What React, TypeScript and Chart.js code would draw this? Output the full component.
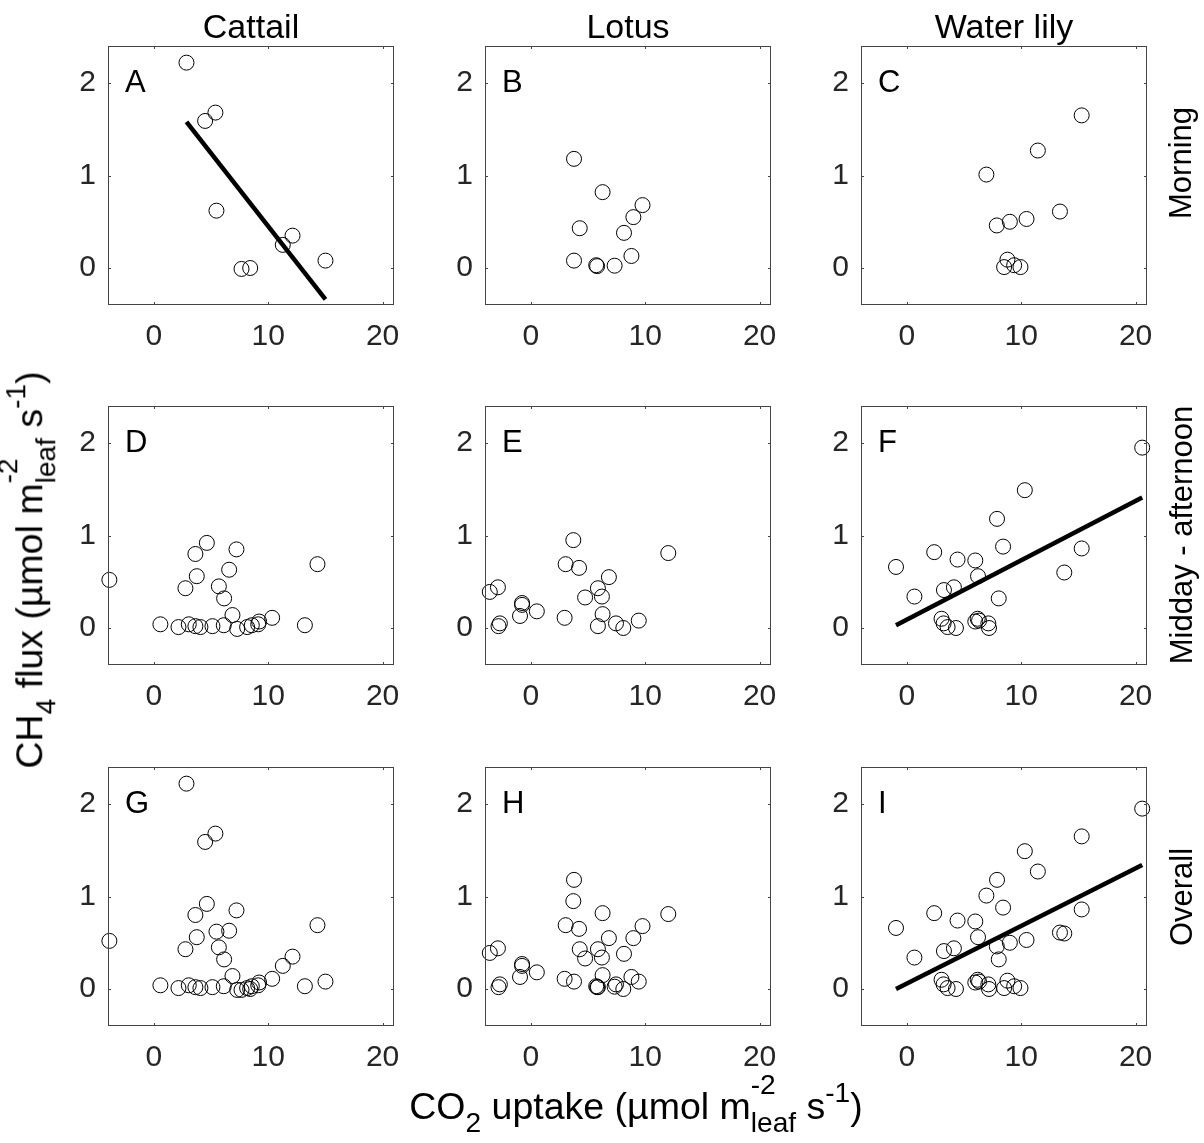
import React, { useEffect, useRef } from 'react';
import { Chart, registerables } from 'chart.js';

Chart.register(...registerables);

// ---------------- data ----------------
const columnTitles = ['Cattail', 'Lotus', 'Water lily'];
const rowTitles = ['Morning', 'Midday - afternoon', 'Overall'];
const panelLetters = ['A', 'B', 'C', 'D', 'E', 'F', 'G', 'H', 'I'];

const xTickValues = [0, 10, 20];
const yTickValues = [0, 1, 2];
const xRange = [-4, 21];
const yRange = [-0.4, 2.4];

// Morning
const morningCattailX = [2.86, 4.49, 5.39, 5.48, 7.67, 8.43, 11.28, 12.13, 15.01];
const morningCattailY = [2.22, 1.59, 1.68, 0.62, -0.01, 0.0, 0.25, 0.35, 0.08];

const morningLotusX = [3.78, 6.28, 9.77, 8.97, 4.28, 8.15, 3.78, 8.8, 5.72, 5.8, 7.33];
const morningLotusY = [1.18, 0.82, 0.68, 0.55, 0.43, 0.38, 0.08, 0.13, 0.03, 0.02, 0.025];

const morningLilyX = [15.29, 11.46, 6.96, 13.39, 10.47, 9.01, 7.87, 8.8, 8.51, 9.39, 9.94];
const morningLilyY = [1.65, 1.27, 1.01, 0.61, 0.53, 0.5, 0.46, 0.09, 0.01, 0.03, 0.01];

// Midday - afternoon
const middayCattailX = [-3.88, 4.64, 3.64, 7.23, 14.31, 6.59, 3.76, 2.77, 5.69, 6.15, 6.88, 0.58, 2.16, 3.06, 3.64, 4.08, 5.13, 6.12, 7.29, 8.16, 8.57, 9.13, 9.21, 10.35, 13.21];
const middayCattailY = [0.52, 0.92, 0.8, 0.85, 0.69, 0.63, 0.56, 0.43, 0.45, 0.32, 0.14, 0.04, 0.01, 0.04, 0.02, 0.01, 0.02, 0.03, -0.01, 0.01, 0.03, 0.04, 0.07, 0.11, 0.03];

const middayLotusX = [-3.58, -2.87, -2.82, -2.7, -0.76, -0.76, -0.94, 0.53, 3.72, 3.05, 4.22, 4.75, 5.87, 6.22, 6.83, 6.28, 5.87, 2.96, 7.45, 8.09, 9.44, 12.02];
const middayLotusY = [0.39, 0.44, 0.02, 0.05, 0.27, 0.25, 0.13, 0.18, 0.95, 0.69, 0.65, 0.33, 0.43, 0.34, 0.55, 0.15, 0.02, 0.11, 0.05, 0.0, 0.08, 0.81];

const middayLilyX = [-0.94, 0.67, 2.4, 3.25, 4.12, 4.44, 5.99, 6.23, 7.89, 8.42, 8.04, 10.32, 13.77, 15.29, 3.04, 3.22, 3.57, 4.3, 5.99, 6.2, 6.32, 7.13, 7.19, 20.58];
const middayLilyY = [0.66, 0.34, 0.82, 0.41, 0.44, 0.74, 0.73, 0.56, 1.18, 0.88, 0.32, 1.49, 0.6, 0.86, 0.1, 0.05, 0.01, 0.0, 0.07, 0.1, 0.08, 0.05, 0.0, 1.95];

// Regression lines (end points)
const fitMorningCattailX = [2.86, 15.01];
const fitMorningCattailY = [1.58, -0.34];
const fitMiddayLilyX = [-0.94, 20.58];
const fitMiddayLilyY = [0.03, 1.41];
const fitOverallLilyX = [-0.94, 20.58];
const fitOverallLilyY = [0.0, 1.34];

// ---------------- helpers ----------------
type Pt = { x: number; y: number };
const zip = (xs: number[], ys: number[]): Pt[] => xs.map((x, i) => ({ x, y: ys[i] }));

const FONT = '"Liberation Sans", Arial, Helvetica, sans-serif';
const AXIS_COLOR = '#262626';
const BOX_COLOR = '#444444';
const TICK_FONT = 30;

const PANEL_LEFTS = [108, 485, 861];
const PANEL_TOPS = [46, 406, 767];
const PANEL_W = 286;
const PANEL_H = 259;
const PAD_L = 80;
const PAD_T = 12;
const PAD_R = 24;
const PAD_B = 70;
const CANVAS_W = PAD_L + PANEL_W + PAD_R;
const CANVAS_H = PAD_T + PANEL_H + PAD_B;

const panelsData: { pts: Pt[]; fit: Pt[] | null }[] = [
  { pts: zip(morningCattailX, morningCattailY), fit: zip(fitMorningCattailX, fitMorningCattailY) },
  { pts: zip(morningLotusX, morningLotusY), fit: null },
  { pts: zip(morningLilyX, morningLilyY), fit: null },
  { pts: zip(middayCattailX, middayCattailY), fit: null },
  { pts: zip(middayLotusX, middayLotusY), fit: null },
  { pts: zip(middayLilyX, middayLilyY), fit: zip(fitMiddayLilyX, fitMiddayLilyY) },
  { pts: zip(morningCattailX.concat(middayCattailX), morningCattailY.concat(middayCattailY)), fit: null },
  { pts: zip(morningLotusX.concat(middayLotusX), morningLotusY.concat(middayLotusY)), fit: null },
  { pts: zip(morningLilyX.concat(middayLilyX), morningLilyY.concat(middayLilyY)), fit: zip(fitOverallLilyX, fitOverallLilyY) },
];

const boxPlugin = {
  id: 'matlabBox',
  afterDraw(chart: any) {
    const { ctx, chartArea } = chart;
    const { left, right, top, bottom } = chartArea;
    const xs = chart.scales.x;
    const ys = chart.scales.y;
    const tl = 3;
    ctx.save();
    ctx.strokeStyle = BOX_COLOR;
    ctx.lineWidth = 1;
    ctx.strokeRect(left + 0.5, top + 0.5, right - left - 1, bottom - top - 1);
    ctx.beginPath();
    for (const v of xTickValues) {
      const px = Math.round(xs.getPixelForValue(v)) + 0.5;
      ctx.moveTo(px, bottom);
      ctx.lineTo(px, bottom - tl);
      ctx.moveTo(px, top);
      ctx.lineTo(px, top + tl);
    }
    for (const v of yTickValues) {
      const py = Math.round(ys.getPixelForValue(v)) + 0.5;
      ctx.moveTo(left, py);
      ctx.lineTo(left + tl, py);
      ctx.moveTo(right, py);
      ctx.lineTo(right - tl, py);
    }
    ctx.stroke();
    ctx.restore();
  },
};

function Panel({ pts, fit, left, top }: { pts: Pt[]; fit: Pt[] | null; left: number; top: number }) {
  const ref = useRef<HTMLCanvasElement>(null);
  useEffect(() => {
    const canvas = ref.current;
    if (!canvas) return;
    const datasets: any[] = [
      {
        data: pts,
        pointRadius: 7.5,
        pointHoverRadius: 7.5,
        pointBorderWidth: 1,
        pointBorderColor: '#000',
        pointBackgroundColor: 'rgba(0,0,0,0)',
        showLine: false,
        clip: false,
        order: 1,
      },
    ];
    if (fit) {
      datasets.push({
        data: fit,
        showLine: true,
        borderColor: '#000',
        borderWidth: 4.5,
        borderCapStyle: 'butt',
        pointRadius: 0,
        pointHoverRadius: 0,
        clip: false,
        order: 0,
      });
    }
    const chart = new Chart(canvas, {
      type: 'scatter',
      data: { datasets },
      options: {
        responsive: false,
        animation: false,
        devicePixelRatio: 1,
        events: [],
        layout: { padding: { left: 0, top: PAD_T, right: PAD_R, bottom: 0 } },
        plugins: { legend: { display: false }, tooltip: { enabled: false }, title: { display: false } },
        scales: {
          x: {
            type: 'linear',
            position: 'bottom',
            min: xRange[0],
            max: xRange[1],
            grid: { display: false, drawTicks: false, tickLength: 0 },
            border: { display: false },
            ticks: { font: { family: FONT, size: TICK_FONT }, color: AXIS_COLOR, padding: 14, maxRotation: 0, autoSkip: false },
            afterBuildTicks: (s: any) => {
              s.ticks = xTickValues.map((v) => ({ value: v }));
            },
            afterFit: (s: any) => {
              s.height = PAD_B;
              s.paddingLeft = 0;
              s.paddingRight = 0;
            },
          },
          y: {
            type: 'linear',
            position: 'left',
            min: yRange[0],
            max: yRange[1],
            grid: { display: false, drawTicks: false, tickLength: 0 },
            border: { display: false },
            ticks: { font: { family: FONT, size: TICK_FONT }, color: AXIS_COLOR, padding: 12, autoSkip: false },
            afterBuildTicks: (s: any) => {
              s.ticks = yTickValues.map((v) => ({ value: v }));
            },
            afterFit: (s: any) => {
              s.width = PAD_L;
              s.paddingTop = 0;
              s.paddingBottom = 0;
            },
          },
        },
      } as any,
      plugins: [boxPlugin],
    });
    return () => chart.destroy();
  }, []);
  return (
    <canvas
      ref={ref}
      width={CANVAS_W}
      height={CANVAS_H}
      style={{ position: 'absolute', left: left - PAD_L, top: top - PAD_T, width: CANVAS_W, height: CANVAS_H }}
    />
  );
}

const ASC = 0.8465; // baseline offset within a line-height:1 box

function Txt({ x, baseline, size, children, center = true }: any) {
  return (
    <div
      style={{
        position: 'absolute',
        left: x,
        top: baseline - ASC * size,
        fontSize: size,
        lineHeight: 1,
        fontFamily: FONT,
        color: '#000',
        whiteSpace: 'nowrap',
        transform: center ? 'translateX(-50%)' : undefined,
      }}
    >
      {children}
    </div>
  );
}

function Rot({ cx, cy, size, children }: any) {
  return (
    <div
      style={{
        position: 'absolute',
        left: cx,
        top: cy,
        fontSize: size,
        lineHeight: 1,
        fontFamily: FONT,
        color: '#000',
        whiteSpace: 'nowrap',
        transform: 'translate(-50%, -50%) rotate(-90deg)',
      }}
    >
      {children}
    </div>
  );
}

const SUB = 0.75;
const Sub = ({ children }: any) => (
  <span style={{ fontSize: `${SUB}em`, position: 'relative', top: '0.45em' }}>{children}</span>
);
const Sup = ({ children }: any) => (
  <span style={{ fontSize: `${SUB}em`, position: 'relative', top: '-0.6em' }}>{children}</span>
);
const Stack = ({ sup, sub }: any) => (
  <span style={{ position: 'relative', display: 'inline-block', lineHeight: 1 }}>
    <span style={{ fontSize: `${SUB}em`, position: 'relative', top: '0.45em' }}>{sub}</span>
    <span style={{ fontSize: `${SUB}em`, position: 'absolute', left: 0, top: '-0.6em' }}>{sup}</span>
  </span>
);

const UnitTail = () => (
  <>
    {' (µmol m'}
    <Stack sup="-2" sub="leaf" />
    {' s'}
    <Sup>-1</Sup>
    {')'}
  </>
);

export default function App() {
  const LABEL = 37.5;
  return (
    <div style={{ position: 'absolute', left: 0, top: 0, width: 1204, height: 1143, background: '#fff', overflow: 'hidden' }}>
      {panelsData.map((p, i) => (
        <Panel key={i} pts={p.pts} fit={p.fit} left={PANEL_LEFTS[i % 3]} top={PANEL_TOPS[Math.floor(i / 3)]} />
      ))}
      {panelLetters.map((l, i) => (
        <Txt key={l} x={PANEL_LEFTS[i % 3] + 17} baseline={PANEL_TOPS[Math.floor(i / 3)] + 46} size={31} center={false}>
          {l}
        </Txt>
      ))}
      {columnTitles.map((t, i) => (
        <Txt key={t} x={PANEL_LEFTS[i] + PANEL_W / 2} baseline={37.5} size={34}>
          {t}
        </Txt>
      ))}
      <Rot cx={1180} cy={163} size={31}>{rowTitles[0]}</Rot>
      <Rot cx={1181} cy={535} size={31}>{rowTitles[1]}</Rot>
      <Rot cx={1181} cy={897} size={31}>{rowTitles[2]}</Rot>
      <Rot cx={30} cy={570} size={LABEL}>
        {'CH'}
        <Sub>4</Sub>
        {' flux'}
        <UnitTail />
      </Rot>
      <Txt x={636} baseline={1120} size={LABEL}>
        {'CO'}
        <Sub>2</Sub>
        {' uptake'}
        <UnitTail />
      </Txt>
    </div>
  );
}
